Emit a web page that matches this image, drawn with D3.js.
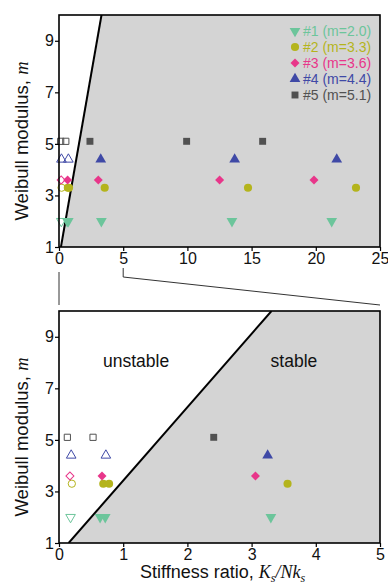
<!DOCTYPE html>
<html lang="en">
<head>
<meta charset="UTF-8">
<title>Weibull modulus vs stiffness ratio</title>
<script src="https://d3js.org/d3.v7.min.js"></script>
<style>
  body { margin: 0; background: #fff; }
  svg { font-family: "Liberation Sans", Arial, sans-serif; }
</style>
</head>
<body>
<svg id="chart" width="388" height="584"></svg>
<script>
// specimens and their Weibull moduli
const specimens = ['#1', '#2', '#3', '#4', '#5'];
const weibullM = [2.0, 3.3, 3.6, 4.4, 5.1];
const colors = ['#6cc59b', '#b4b41c', '#e8368a', '#3f49a6', '#515151'];
const shapes = ['down', 'circle', 'diamond', 'up', 'square'];

// stiffness ratio values
const unstableX = [[0.18], [0.20], [0.17], [0.19, 0.73], [0.13, 0.53]];
const stableX = [
  [0.64, 0.72, 3.30, 13.47, 21.24],
  [0.69, 0.78, 3.56, 14.72, 23.13],
  [0.67, 3.06, 12.51, 19.86],
  [3.25, 13.68, 21.63],
  [2.41, 9.94, 15.86]
];

// stability boundary (two end points)
const boundaryX = [0.15, 3.31];
const boundaryM = [1, 10];

const yTicks = [1, 3, 5, 7, 9];
const topXTicks = [0, 5, 10, 15, 20, 25];
const botXTicks = [0, 1, 2, 3, 4, 5];

const svg = d3.select('#chart');
const left = 59, right = 380;

// flatten points
const points = [];
specimens.forEach((s, i) => {
  unstableX[i].forEach(x => points.push({ i, x, m: weibullM[i], open: true }));
  stableX[i].forEach(x => points.push({ i, x, m: weibullM[i], open: false }));
});

function markerPath(shape, big) {
  const k = big ? 1 : 0.8;
  if (shape === 'circle') return d3.symbol(d3.symbolCircle, 52 * k)();
  if (shape === 'square') return d3.symbol(d3.symbolSquare, 48 * k)();
  if (shape === 'diamond') return d3.symbol(d3.symbolSquare, 40 * k)();
  return d3.symbol(d3.symbolTriangle, 50 * k)();
}
function markerRotate(shape) {
  if (shape === 'down') return 180;
  if (shape === 'diamond') return 45;
  return 0;
}

function drawPanel(top, bottom, xMax, xTicks, id) {
  const x = d3.scaleLinear().domain([0, xMax]).range([left, right]);
  const y = d3.scaleLinear().domain([1, 10]).range([bottom, top]);
  const g = svg.append('g');

  g.append('clipPath').attr('id', id)
    .append('rect').attr('x', left).attr('y', top)
    .attr('width', right - left).attr('height', bottom - top);

  const plot = g.append('g').attr('clip-path', `url(#${id})`);

  // stable region
  const poly = [
    [x(boundaryX[0]), y(boundaryM[0])],
    [x(boundaryX[1]), y(boundaryM[1])],
    [x(xMax) + 5, y(10)],
    [x(xMax) + 5, y(1)]
  ];
  plot.append('path')
    .attr('d', 'M' + poly.join('L') + 'Z')
    .attr('fill', '#d4d4d4');
  plot.append('line')
    .attr('x1', x(boundaryX[0])).attr('y1', y(boundaryM[0]))
    .attr('x2', x(boundaryX[1])).attr('y2', y(boundaryM[1]))
    .attr('stroke', '#000').attr('stroke-width', 2);

  // markers
  g.append('g').selectAll('path')
    .data(points.filter(p => p.x <= xMax))
    .join('path')
    .attr('d', d => markerPath(shapes[d.i], !d.open))
    .attr('transform', d => `translate(${x(d.x)},${y(d.m)}) rotate(${markerRotate(shapes[d.i])})`)
    .attr('fill', d => d.open ? 'none' : colors[d.i])
    .attr('stroke', d => d.open ? colors[d.i] : 'none')
    .attr('stroke-width', 1);

  // frame
  g.append('rect')
    .attr('x', left).attr('y', top)
    .attr('width', right - left).attr('height', bottom - top)
    .attr('fill', 'none').attr('stroke', '#000').attr('stroke-width', 1.6);

  const xAxis = g.append('g')
    .attr('transform', `translate(0,${bottom})`)
    .call(d3.axisBottom(x).tickValues(xTicks).tickFormat(d3.format('d')).tickSize(4).tickPadding(2));
  const yAxis = g.append('g')
    .attr('transform', `translate(${left},0)`)
    .call(d3.axisLeft(y).tickValues(yTicks).tickFormat(d3.format('d')).tickSize(4).tickPadding(1));
  [xAxis, yAxis].forEach(a => {
    a.select('.domain').remove();
    a.selectAll('line').attr('stroke', '#000').attr('stroke-width', 1.2);
    a.selectAll('text').attr('font-size', 16).attr('fill', '#111')
      .attr('font-family', '"Liberation Sans", Arial, sans-serif');
  });

  // y title
  const yt = g.append('text')
    .attr('transform', `translate(28,${(top + bottom) / 2 + 10}) rotate(-90)`)
    .attr('text-anchor', 'middle')
    .attr('font-size', 18.5).attr('fill', '#111');
  yt.append('tspan').text('Weibull modulus, ');
  yt.append('tspan').attr('font-style', 'italic').attr('font-family', '"Liberation Serif", serif').text('m');

  return { x, y, g };
}

const topP = drawPanel(15, 247, 25, topXTicks, 'clipTop');
const botP = drawPanel(311, 543, 5, botXTicks, 'clipBot');

// legend
const legend = svg.append('g');
specimens.forEach((s, i) => {
  const ly = 31 + i * 16;
  legend.append('path')
    .attr('d', markerPath(shapes[i], true))
    .attr('transform', `translate(295,${ly}) rotate(${markerRotate(shapes[i])})`)
    .attr('fill', colors[i]);
  legend.append('text')
    .attr('x', 303).attr('y', ly + 5)
    .attr('font-size', 14).attr('fill', colors[i])
    .text(`${s} (m=${weibullM[i].toFixed(1)})`);
});

// region labels
botP.g.append('text').attr('x', botP.x(1.2)).attr('y', 367)
  .attr('text-anchor', 'middle').attr('font-size', 17.5).attr('fill', '#111').text('unstable');
botP.g.append('text').attr('x', botP.x(3.66)).attr('y', 367)
  .attr('text-anchor', 'middle').attr('font-size', 17.5).attr('fill', '#111').text('stable');

// zoom connector lines
const conn = svg.append('g').attr('stroke', '#333').attr('stroke-width', 1).attr('fill', 'none');
conn.append('line').attr('x1', topP.x(0)).attr('y1', 272).attr('x2', topP.x(0)).attr('y2', 305);
conn.append('polyline')
  .attr('points', [[topP.x(5), 268], [topP.x(5), 277], [right, 305]].join(' '));

// x title
const xt = svg.append('text')
  .attr('x', 140).attr('y', 578)
  .attr('text-anchor', 'start').attr('font-size', 18).attr('fill', '#111');
xt.append('tspan').text('Stiffness ratio, ');
const serif = '"Liberation Serif", serif';
xt.append('tspan').attr('font-style', 'italic').attr('font-family', serif).text('K');
xt.append('tspan').attr('font-style', 'italic').attr('font-family', serif).attr('font-size', 12).attr('dy', 4).text('s');
xt.append('tspan').attr('font-style', 'italic').attr('font-family', serif).attr('dy', -4).text('/Nk');
xt.append('tspan').attr('font-style', 'italic').attr('font-family', serif).attr('font-size', 12).attr('dy', 4).text('s');
</script>
</body>
</html>
